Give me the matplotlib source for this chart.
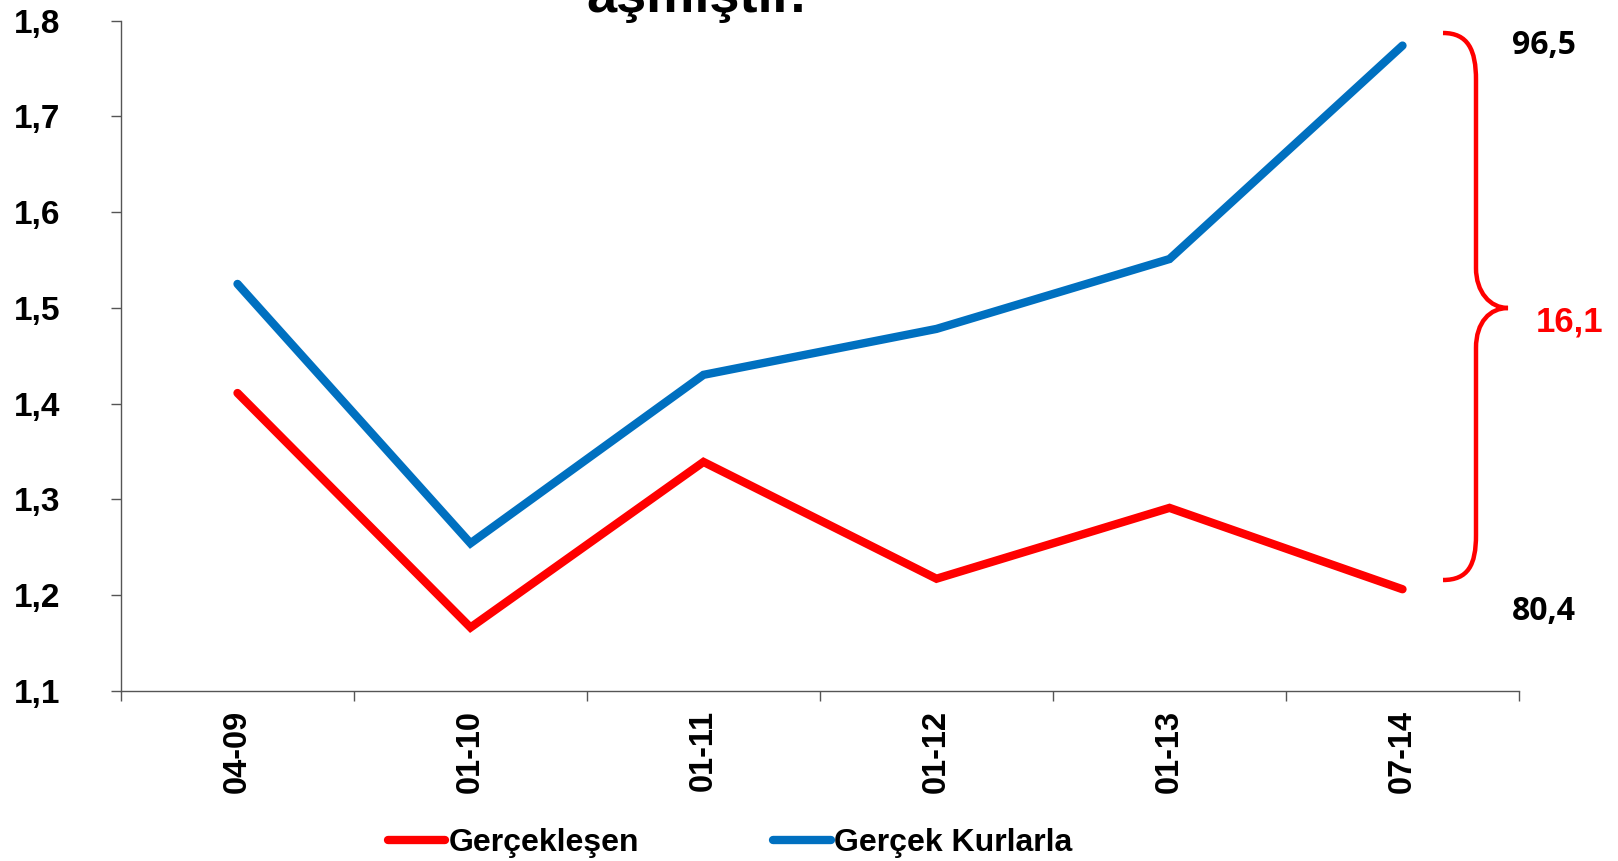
import matplotlib
matplotlib.use('Agg')
import matplotlib.pyplot as plt
import numpy as np
from matplotlib.path import Path
from matplotlib.patches import PathPatch

dates = ['04-09', '01-10', '01-11', '01-12', '01-13', '07-14']
gerceklesen = [1.411, 1.166, 1.339, 1.217, 1.291, 1.206]
gercek_kurlarla = [1.525, 1.254, 1.430, 1.478, 1.551, 1.774]
yticks = [1.1, 1.2, 1.3, 1.4, 1.5, 1.6, 1.7, 1.8]
end_top = '96,5'
end_bottom = '80,4'
diff_label = '16,1'

plt.rcParams['font.family'] = ['Liberation Sans', 'DejaVu Sans']
plt.rcParams['font.weight'] = 'bold'

W, H = 1618, 861
fig = plt.figure(figsize=(W / 100, H / 100), dpi=100)
ax = fig.add_axes([121 / W, 1 - 690.7 / H, 1398 / W, 670 / H])

x = np.arange(len(dates))
ax.plot(x, gerceklesen, color='#ff0000', lw=6, solid_capstyle='round',
        solid_joinstyle='miter', label='Gerçekleşen')
ax.plot(x, gercek_kurlarla, color='#0070c0', lw=6, solid_capstyle='round',
        solid_joinstyle='miter', label='Gerçek Kurlarla')

ax.set_xlim(-0.5, len(dates) - 0.5)
ax.set_ylim(1.1, 1.8)
ax.set_yticks(yticks)
ax.set_yticklabels([f'{v:.1f}'.replace('.', ',') for v in yticks], fontsize=24, fontweight='bold')
ax.set_xticks(np.arange(-0.5, len(dates), 1))
ax.set_xticklabels([])
ax.set_xticks(x, minor=True)
ax.set_xticklabels(dates, minor=True, rotation=90, fontsize=23.5, fontweight='bold')
ax.tick_params(axis='x', which='minor', length=0, pad=14)
ax.tick_params(axis='x', which='major', length=7, width=1, color='#555555', direction='out')
ax.tick_params(axis='y', length=7, width=1, color='#555555', direction='out', pad=37)
for s in ['top', 'right']:
    ax.spines[s].set_visible(False)
for s in ['left', 'bottom']:
    ax.spines[s].set_color('#555555')
    ax.spines[s].set_linewidth(1)

# curly brace on the right
pts = [(1443, 33), (1468, 33), (1476, 50), (1476, 80),
       (1476, 268),
       (1476, 292), (1490, 308), (1508, 308),
       (1490, 308), (1476, 322), (1476, 348),
       (1476, 535),
       (1476, 565), (1468, 580), (1443, 580)]
codes = [Path.MOVETO, Path.CURVE4, Path.CURVE4, Path.CURVE4,
         Path.LINETO,
         Path.CURVE4, Path.CURVE4, Path.CURVE4,
         Path.CURVE4, Path.CURVE4, Path.CURVE4,
         Path.LINETO,
         Path.CURVE4, Path.CURVE4, Path.CURVE4]
verts = [(px / W, 1 - py / H) for px, py in pts]
fig.patches.append(PathPatch(Path(verts, codes), transform=fig.transFigure,
                             fill=False, edgecolor='#ff0000', lw=3.2))

fig.text(1544 / W, 1 - 46 / H, end_top, ha='center', va='center', fontsize=23,
         fontweight='bold', family=['Open Sans', 'DejaVu Sans'])
fig.text(1544 / W, 1 - 611 / H, end_bottom, ha='center', va='center', fontsize=23,
         fontweight='bold', family=['Open Sans', 'DejaVu Sans'])
fig.text(1570 / W, 1 - 322 / H, diff_label, ha='center', va='center', fontsize=25,
         fontweight='bold', color='#ff0000')

# title cut off at top of the picture
fig.text(696 / W, 1 - 12 / H, 'aşmıştır.', ha='center', va='baseline', fontsize=39,
         fontweight='bold')

lgd = fig.legend(loc='center', bbox_to_anchor=(730 / W, 1 - 843 / H), ncol=2,
                 frameon=False, fontsize=23, handlelength=1.8, handletextpad=0.1,
                 columnspacing=4.2, borderpad=0)
for t in lgd.get_texts():
    t.set_fontweight('bold')
for h in lgd.get_lines():
    h.set_linewidth(6)

fig.savefig('out.png', dpi=100)
